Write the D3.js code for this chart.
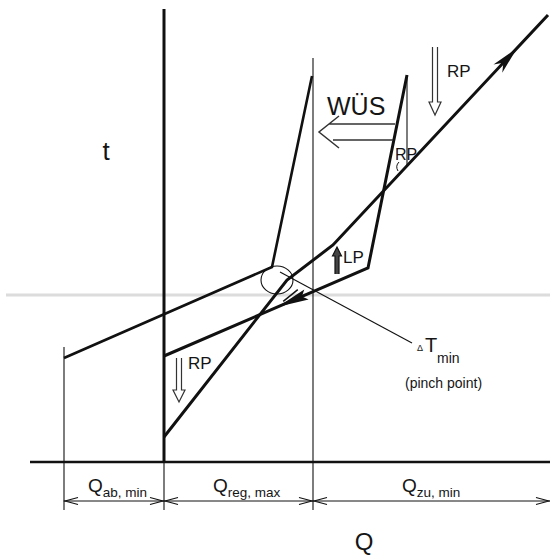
<!DOCTYPE html>
<html><head><meta charset="utf-8">
<script src="https://cdn.jsdelivr.net/npm/d3@7"></script>
<style>
html,body{margin:0;background:#fff}
svg{display:block}
text{font-family:"Liberation Sans",Arial,sans-serif;fill:#151515}
</style>
</head><body>
<svg id="c" width="550" height="555"></svg>
<script>
// Heat flow Q (horizontal) and temperature t (vertical), arbitrary units
const qDomain = [-10, 38.6];
const tDomain = [0, 45.3];

// Dimension band boundaries along Q and their labels
const dimBounds = [-10, 0, 14.9, 38.6];
const dimMain = ["Q", "Q", "Q"];
const dimSub = ["ab, min", "reg, max", "zu, min"];

// Cold composite curve (heat taken up)
const coldQ = [0, 12.3, 16.9, 38.4];
const coldT = [2.5, 18.2, 21.7, 44.7];

// Hot composite curve, original position
const hotQ = [0, 20.4, 24.3];
const hotT = [10.6, 19.4, 38.7];

// Hot composite curve shifted to the pinch
const shiftedQ = [-10, 10.8, 14.8];
const shiftedT = [10.4, 19.5, 38.6];

// Pinch point marker
const pinchQ = 11.3, pinchT = 18.2;

const svg = d3.select("#c");
const x = d3.scaleLinear().domain(qDomain).range([64, 550]);
const y = d3.scaleLinear().domain(tDomain).range([462, 9]);

const ink = "#111";
const line = d3.line().x(d => x(d[0])).y(d => y(d[1]));
const zip = (a, b) => a.map((v, i) => [v, b[i]]);

function pointOn(qs, ts, q) {
  for (let i = 0; i < qs.length - 1; i++) {
    if (q >= qs[i] && q <= qs[i + 1]) {
      const f = (q - qs[i]) / (qs[i + 1] - qs[i]);
      return [x(q), y(ts[i] + f * (ts[i + 1] - ts[i]))];
    }
  }
  return [x(q), y(ts[ts.length - 1])];
}

// faint horizontal band
svg.append("line").attr("x1", 6).attr("x2", 550).attr("y1", 295).attr("y2", 295)
  .attr("stroke", "#dcdcdc").attr("stroke-width", 3);

// thin guide verticals
const base = y(0);
const dimY = base + 39;
[dimBounds[0], dimBounds[2]].forEach((q, i) => {
  svg.append("line").attr("x1", x(q)).attr("x2", x(q))
    .attr("y1", i === 0 ? base - 115 : y(40.4)).attr("y2", dimY + 9)
    .attr("stroke", ink).attr("stroke-width", 1.1);
});
svg.append("line").attr("x1", x(0)).attr("x2", x(0)).attr("y1", base).attr("y2", dimY + 9)
  .attr("stroke", ink).attr("stroke-width", 1.1);

// axes
svg.append("line").attr("x1", x(-13.4)).attr("x2", x(qDomain[1])).attr("y1", base).attr("y2", base)
  .attr("stroke", ink).attr("stroke-width", 2.4);
svg.append("line").attr("x1", x(0)).attr("x2", x(0)).attr("y1", y(tDomain[1])).attr("y2", base)
  .attr("stroke", ink).attr("stroke-width", 3);

// small vertical at hot curve top down to cold curve
const hotTop = [x(hotQ[2]), y(hotT[2])];
const coldAt = pointOn(coldQ, coldT, hotQ[2]);
svg.append("line").attr("x1", hotTop[0]).attr("x2", hotTop[0]).attr("y1", hotTop[1]).attr("y2", coldAt[1])
  .attr("stroke", ink).attr("stroke-width", 1.1);

// curves
[[coldQ, coldT, 3], [hotQ, hotT, 3], [shiftedQ, shiftedT, 2.6]].forEach(([qs, ts, w]) => {
  svg.append("path").attr("d", line(zip(qs, ts))).attr("fill", "none")
    .attr("stroke", ink).attr("stroke-width", w).attr("stroke-linejoin", "miter");
});

// arrowhead with notch
function arrowHead(tip, ang, len, hw, notch) {
  const c = Math.cos(ang), s = Math.sin(ang);
  const back = (l, w) => [tip[0] - c * l - s * w, tip[1] - s * l + c * w];
  const p = [tip, back(len, hw), back(len - notch, 0), back(len, -hw)];
  svg.append("path").attr("d", "M" + p.map(d => d.join(",")).join("L") + "Z").attr("fill", ink);
}
{
  const n = coldQ.length;
  const a = [x(coldQ[n - 2]), y(coldT[n - 2])], b = [x(coldQ[n - 1]), y(coldT[n - 1])];
  const ang = Math.atan2(b[1] - a[1], b[0] - a[0]);
  arrowHead(pointOn(coldQ, coldT, 35.3), ang, 28, 6, 8);
}
{
  const a = [x(hotQ[1]), y(hotT[1])], b = [x(hotQ[0]), y(hotT[0])];
  const ang = Math.atan2(b[1] - a[1], b[0] - a[0]);
  const tip = pointOn(hotQ, hotT, 11.4);
  arrowHead(tip, ang, 31, 5.5, 5);
  // thin upper barb, running back from near the tip
  const c = Math.cos(ang), s = Math.sin(ang);
  const s0 = [tip[0] - c * 7 - s * 3, tip[1] - s * 7 + c * 3];
  svg.append("line").attr("x1", s0[0]).attr("y1", s0[1])
    .attr("x2", s0[0] - c * 18 - s * 5).attr("y2", s0[1] - s * 18 + c * 5)
    .attr("stroke", ink).attr("stroke-width", 1.5);
}

// pinch marker and leader
svg.append("ellipse").attr("cx", x(pinchQ)).attr("cy", y(pinchT)).attr("rx", 16).attr("ry", 14)
  .attr("fill", "none").attr("stroke", ink).attr("stroke-width", 1.1);
svg.append("line").attr("x1", x(pinchQ) + 3).attr("y1", y(pinchT) - 8).attr("x2", 412).attr("y2", 343)
  .attr("stroke", ink).attr("stroke-width", 1.1);

// hollow double arrows
function dblArrow(cx, top, tip, headLen, gap, hw, color, fill) {
  const dir = tip > top ? 1 : -1;
  const hb = tip - dir * headLen;
  const d = `M${cx - gap},${top}L${cx - gap},${hb}L${cx - hw},${hb}L${cx},${tip}L${cx + hw},${hb}L${cx + gap},${hb}L${cx + gap},${top}`;
  svg.append("path").attr("d", d).attr("fill", fill || "none").attr("stroke", color).attr("stroke-width", 1.2);
}
dblArrow(435, 47, 115, 13, 2.5, 6, "#333");
dblArrow(179, 358, 402, 12, 2.5, 6, "#333");
dblArrow(337, 274, 247, 9, 2, 4.5, "#111", "#444");

// small arrow under the upper RP
svg.append("path").attr("d", "M399,162Q395,166,398,171").attr("fill", "none").attr("stroke", ink).attr("stroke-width", 1);

// WÜS shift arrow
svg.append("path")
  .attr("d", "M395,124L329,124M339,116L319,132L339,148M333,140L393,140")
  .attr("fill", "none").attr("stroke", "#333").attr("stroke-width", 1.5);

// dimension line with open arrowheads
svg.append("line").attr("x1", x(dimBounds[0])).attr("x2", x(dimBounds[3])).attr("y1", dimY).attr("y2", dimY)
  .attr("stroke", ink).attr("stroke-width", 1);
function chevron(tx, dir) {
  svg.append("path").attr("d", `M${tx + dir * 13},${dimY - 3.5}L${tx},${dimY}L${tx + dir * 13},${dimY + 3.5}`)
    .attr("fill", "none").attr("stroke", ink).attr("stroke-width", 1.1);
}
for (let i = 0; i < 3; i++) {
  chevron(x(dimBounds[i]) + 1, 1);
  chevron(x(dimBounds[i + 1]) - 1, -1);
}
const dimLabelX = [88, 213, 402];
dimMain.forEach((m, i) => {
  const g = svg.append("text").attr("x", dimLabelX[i]).attr("y", dimY - 9);
  g.append("tspan").attr("font-size", 19).text(m);
  g.append("tspan").attr("font-size", 13.5).attr("dy", 5).text(dimSub[i]);
});

// axis titles
svg.append("text").attr("x", 106).attr("y", 160).attr("text-anchor", "middle").attr("font-size", 26).text("t");
svg.append("text").attr("x", 364).attr("y", 550).attr("text-anchor", "middle").attr("font-size", 24).text("Q");

// annotations
svg.append("text").attr("x", 327).attr("y", 115).attr("font-size", 25).attr("fill", "#222").text("WÜS");
svg.append("text").attr("x", 447).attr("y", 77).attr("font-size", 17).text("RP");
svg.append("text").attr("x", 395).attr("y", 160).attr("font-size", 16).text("RP");
svg.append("text").attr("x", 343).attr("y", 263).attr("font-size", 17).text("LP");
svg.append("text").attr("x", 188).attr("y", 369).attr("font-size", 17).text("RP");
svg.append("text").attr("x", 417).attr("y", 351).attr("font-size", 9).text("Δ");
svg.append("text").attr("x", 425).attr("y", 352).attr("font-size", 20).text("T");
svg.append("text").attr("x", 437).attr("y", 363).attr("font-size", 14).text("min");
svg.append("text").attr("x", 405).attr("y", 388).attr("font-size", 14).text("(pinch point)");
</script>
</body></html>
